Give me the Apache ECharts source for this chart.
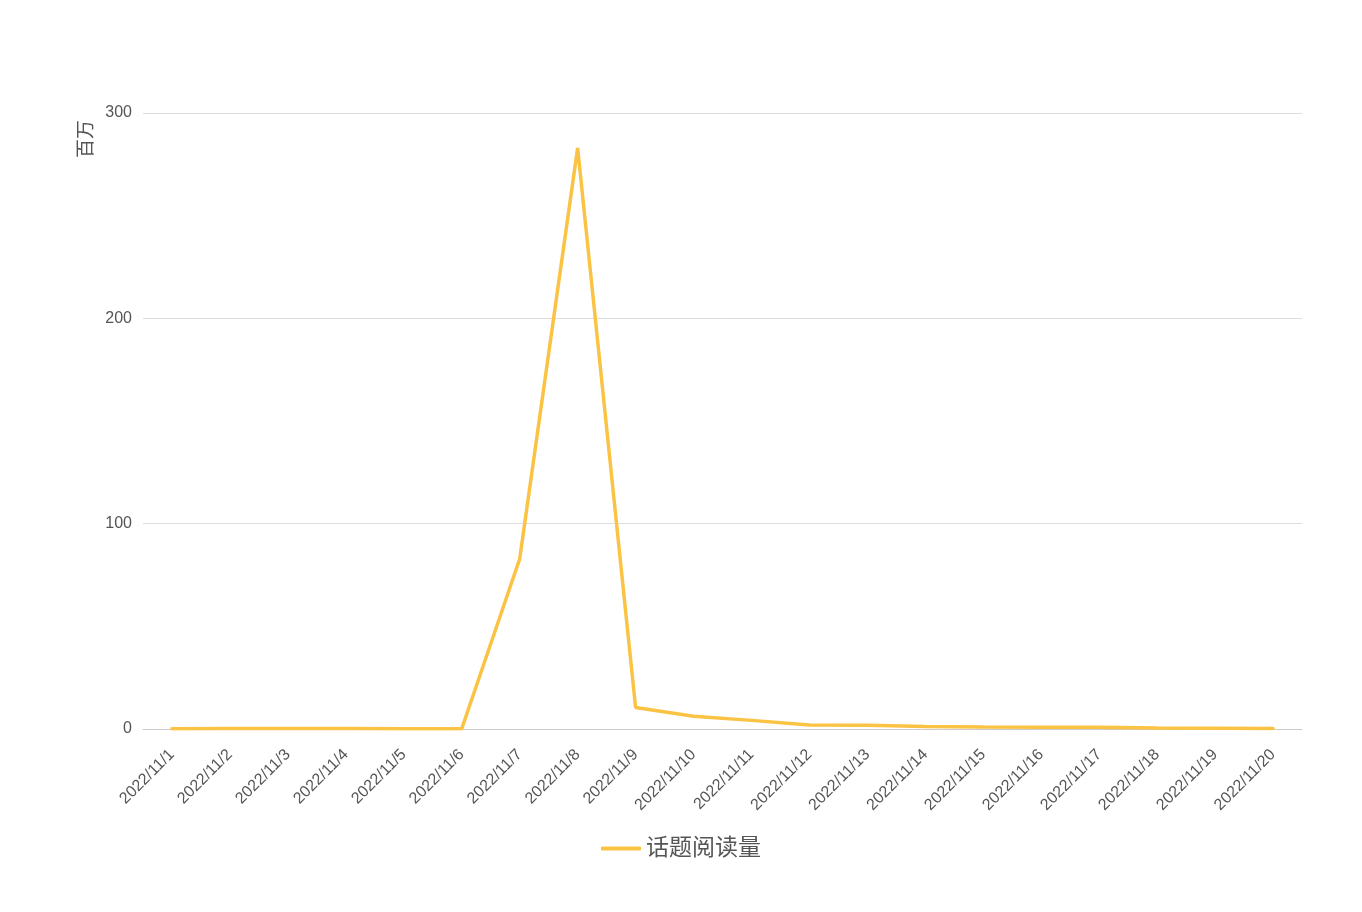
<!DOCTYPE html>
<html><head><meta charset="utf-8">
<script src="https://cdn.jsdelivr.net/npm/echarts@6/dist/echarts.min.js"></script>
<style>html,body{margin:0;padding:0;background:#fff}#c{width:1362px;height:912px}</style>
</head><body><div id="c"></div>
<script>
const categories = ['2022/11/1','2022/11/2','2022/11/3','2022/11/4','2022/11/5','2022/11/6','2022/11/7','2022/11/8','2022/11/9','2022/11/10','2022/11/11','2022/11/12','2022/11/13','2022/11/14','2022/11/15','2022/11/16','2022/11/17','2022/11/18','2022/11/19','2022/11/20'];
const readCount = [0.1, 0.2, 0.2, 0.2, 0.1, 0.1, 82.8, 283, 10.5, 6.2, 4.2, 1.9, 1.8, 1.2, 1.0, 0.9, 0.9, 0.5, 0.4, 0.3];
const seriesName = '话题阅读量';
const yAxisName = '百万';

const FONT = '"Liberation Sans", "Noto Sans CJK SC", sans-serif';
const chart = echarts.init(document.getElementById('c'));
chart.setOption({
  animation: false,
  textStyle: { fontFamily: FONT },
  grid: { left: 143, right: 60, top: 113, bottom: 183, containLabel: false },
  legend: {
    bottom: 47, left: 'center',
    icon: 'roundRect', itemWidth: 40, itemHeight: 4, itemGap: 10,
    textStyle: { fontSize: 23, color: '#555', fontFamily: FONT },
    data: [seriesName]
  },
  graphic: [{
    type: 'text', x: 85, y: 139, rotation: Math.PI / 2,
    style: { text: yAxisName, font: '19px "Noto Sans CJK SC", sans-serif', fill: '#555', align: 'center', verticalAlign: 'middle' }
  }],
  xAxis: {
    type: 'category', data: categories, boundaryGap: true,
    axisLine: { lineStyle: { color: '#ccc' } },
    axisTick: { lineStyle: { color: '#ccc' } },
    axisLabel: { rotate: 45, fontSize: 16, color: '#555', interval: 0, margin: 23 }
  },
  yAxis: {
    type: 'value', min: 0, max: 300, interval: 100,
    axisLine: { show: false }, axisTick: { show: false },
    axisLabel: { fontSize: 16, color: '#555', margin: 11 },
    splitLine: { lineStyle: { color: '#ddd' } }
  },
  series: [{
    name: seriesName, type: 'line', data: readCount,
    symbol: 'none',
    lineStyle: { color: '#FBC343', width: 3.5, cap: 'round' },
    itemStyle: { color: '#FBC343' }
  }]
});
</script></body></html>
